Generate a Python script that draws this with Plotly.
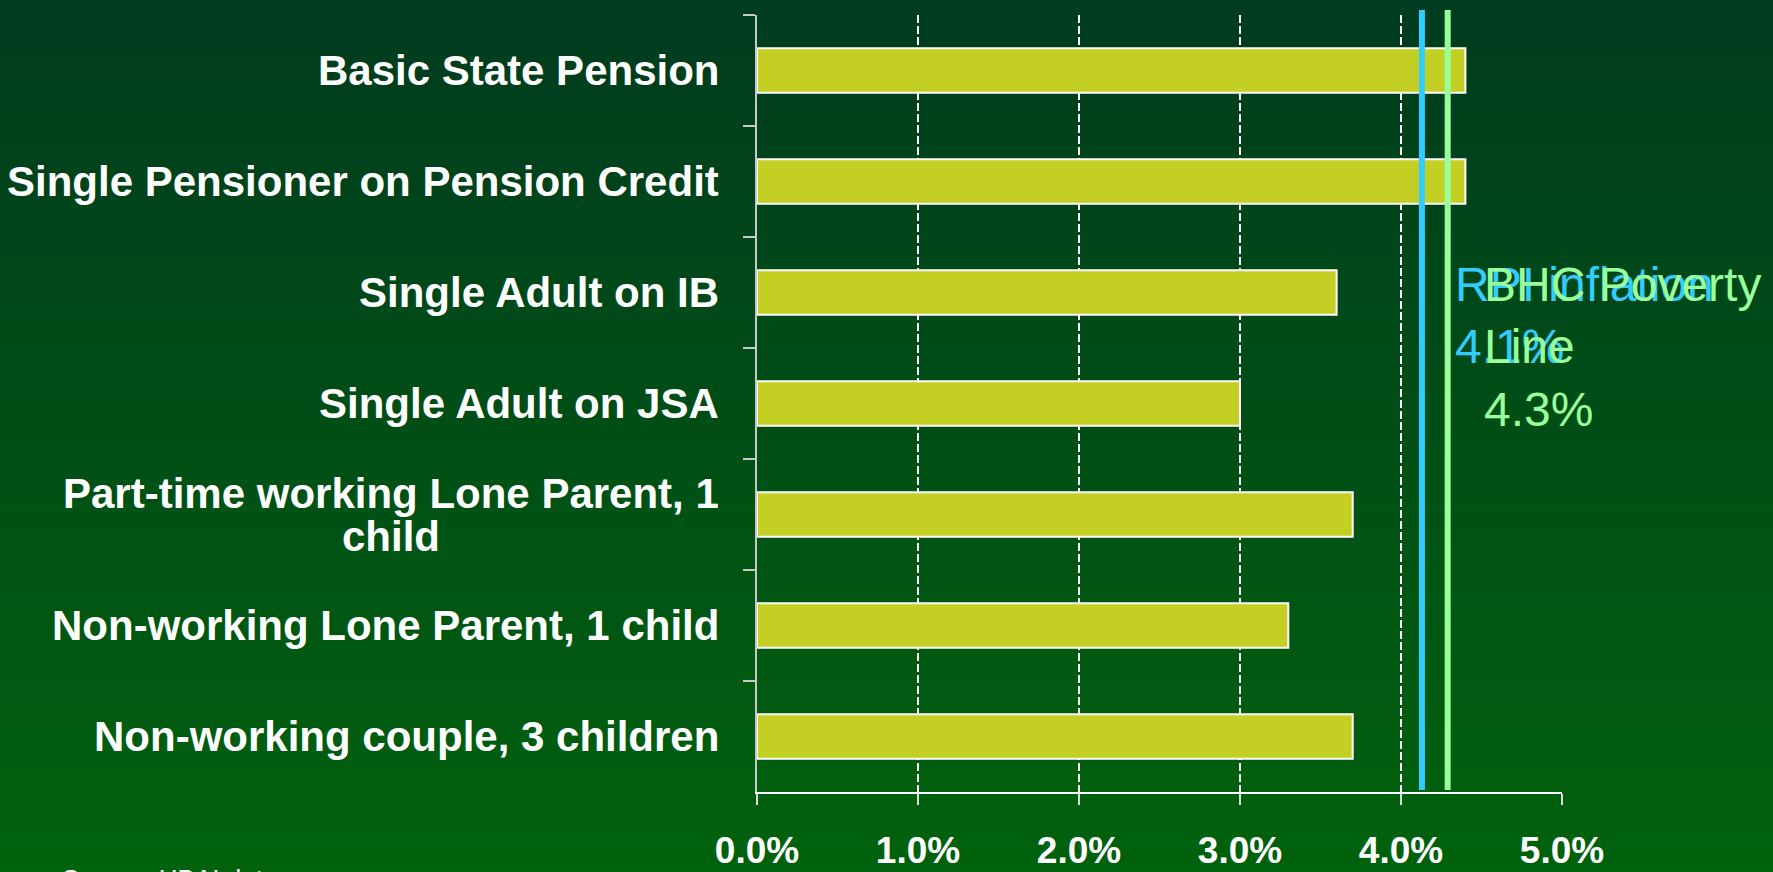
import plotly.graph_objects as go


CATEGORIES = [
    "Basic State Pension",
    "Single Pensioner on Pension Credit",
    "Single Adult on IB",
    "Single Adult on JSA",
    "Part-time working Lone Parent, 1\nchild",
    "Non-working Lone Parent, 1 child",
    "Non-working couple, 3 children",
]
INCREASE_PCT = [4.4, 4.4, 3.6, 3.0, 3.7, 3.3, 3.7]

RPI_INFLATION = 4.13
RPI_LABEL = "RPI inflation<br>4.1%"
BHC_POVERTY_LINE = 4.29
BHC_LABEL = "BHC Poverty<br>Line<br>4.3%"

TICK_VALUES = [0, 1, 2, 3, 4, 5]
TICK_TEXT = ["0.0%", "1.0%", "2.0%", "3.0%", "4.0%", "5.0%"]

SOURCE_TEXT = "Source: HBAI data"

WIDTH, HEIGHT = 1773, 872
MARGIN = dict(l=757, r=211, t=15, b=80)
FONT = "Liberation Sans, Arial, sans-serif"
TOP_RGB = (0, 59, 31)
BOTTOM_RGB = (0, 98, 13)

LABEL_GAP = 36          # px between label block and the axis
WRAPPED_BLOCK_W = 660   # px width of a wrapped label block (lines centred in it)
LABEL_LINE_H = 43


def px_to_paper_y(py: float) -> float:
    plot_h = HEIGHT - MARGIN["t"] - MARGIN["b"]
    return (HEIGHT - MARGIN["b"] - py) / plot_h


def background_bands(step: int = 8) -> list:
    """Vertical gradient painted as thin horizontal bands."""
    shapes = []
    for top in range(0, HEIGHT, step):
        t = (top + step / 2) / HEIGHT
        r, g, b = (round(a + (c - a) * t) for a, c in zip(TOP_RGB, BOTTOM_RGB))
        shapes.append(
            dict(
                type="rect",
                xref="paper",
                yref="paper",
                x0=-1.0,
                x1=1.5,
                y0=px_to_paper_y(top + step + 1),
                y1=px_to_paper_y(top),
                fillcolor=f"rgb({r},{g},{b})",
                line=dict(width=0),
                layer="below",
            )
        )
    return shapes


fig = go.Figure()

fig.add_trace(
    go.Bar(
        x=INCREASE_PCT,
        y=CATEGORIES,
        orientation="h",
        marker=dict(color="#C3CF23", line=dict(color="white", width=2)),
        hoverinfo="skip",
    )
)

shapes = background_bands()
for value, color in [(RPI_INFLATION, "#33CCFF"), (BHC_POVERTY_LINE, "#99FF99")]:
    shapes.append(
        dict(
            type="line",
            xref="x",
            yref="paper",
            x0=value,
            x1=value,
            y0=px_to_paper_y(790),
            y1=px_to_paper_y(10),
            line=dict(color=color, width=6),
            layer="above",
        )
    )

annotations = []
for cat in CATEGORIES:
    lines = cat.split("\n")
    n = len(lines)
    for i, line in enumerate(lines):
        if n == 1:
            anchor, shift = "right", -LABEL_GAP
        else:
            anchor, shift = "center", -LABEL_GAP - WRAPPED_BLOCK_W / 2
        annotations.append(
            dict(
                text=line,
                xref="paper",
                yref="y",
                x=0,
                y=cat,
                xanchor=anchor,
                yanchor="middle",
                xshift=shift,
                yshift=((n - 1) / 2 - i) * LABEL_LINE_H,
                showarrow=False,
                font=dict(family=FONT, size=42, color="white", weight="bold"),
            )
        )

annotations.append(
    dict(
        text=RPI_LABEL,
        xref="x",
        yref="paper",
        x=RPI_INFLATION,
        y=px_to_paper_y(256),
        xanchor="left",
        yanchor="top",
        xshift=31,
        align="left",
        showarrow=False,
        font=dict(family=FONT, size=48, color="#33CCFF"),
    )
)
annotations.append(
    dict(
        text=BHC_LABEL,
        xref="x",
        yref="paper",
        x=BHC_POVERTY_LINE,
        y=px_to_paper_y(256),
        xanchor="left",
        yanchor="top",
        xshift=34,
        align="left",
        showarrow=False,
        font=dict(family=FONT, size=48, color="#99FF99"),
    )
)
annotations.append(
    dict(
        text=SOURCE_TEXT,
        xref="paper",
        yref="paper",
        x=(60 - MARGIN["l"]) / (WIDTH - MARGIN["l"] - MARGIN["r"]),
        y=px_to_paper_y(862),
        xanchor="left",
        yanchor="top",
        showarrow=False,
        font=dict(family=FONT, size=26, color="white"),
    )
)

fig.update_layout(
    width=WIDTH,
    height=HEIGHT,
    autosize=False,
    margin=dict(MARGIN, autoexpand=False),
    paper_bgcolor="rgb(0,96,14)",
    plot_bgcolor="rgba(0,0,0,0)",
    showlegend=False,
    bargap=0.6,
    shapes=shapes,
    annotations=annotations,
    xaxis=dict(
        range=[0, 5],
        tickvals=TICK_VALUES,
        ticktext=TICK_TEXT,
        tickfont=dict(family=FONT, size=37, color="white", weight="bold"),
        showline=True,
        linecolor="white",
        linewidth=2,
        ticks="outside",
        ticklen=11,
        tickwidth=1.5,
        tickcolor="#DDDDDD",
        ticklabelstandoff=14,
        showgrid=True,
        gridcolor="white",
        gridwidth=2,
        griddash="8px,3px",
        zeroline=False,
        automargin=False,
        fixedrange=True,
    ),
    yaxis=dict(
        type="category",
        categoryorder="array",
        categoryarray=CATEGORIES,
        autorange="reversed",
        showticklabels=False,
        showline=True,
        linecolor="#C8C8C8",
        linewidth=1.5,
        ticks="outside",
        tickson="boundaries",
        ticklen=12,
        tickcolor="#C8C8C8",
        tickwidth=1.5,
        showgrid=False,
        zeroline=False,
        automargin=False,
        fixedrange=True,
    ),
)

fig.write_html(
    "out.html",
    config={"displayModeBar": False},
    post_script="document.body.style.margin='0';document.body.style.overflow='hidden';",
)
